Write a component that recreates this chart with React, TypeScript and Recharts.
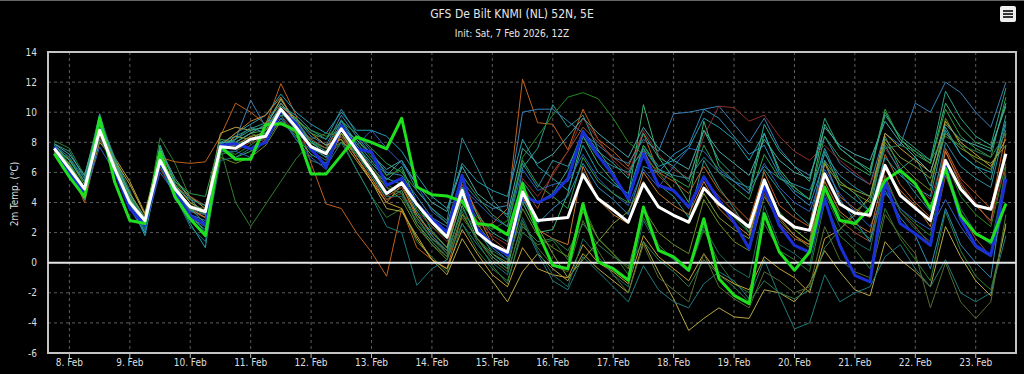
import React from 'react';
import { LineChart, Line, XAxis, YAxis, CartesianGrid, ReferenceLine, ReferenceArea } from 'recharts';

// forecast valid times, hours after 8 Feb 00Z (6-hourly from 7 Feb 18Z)
const HOURS = [
  -6, 0, 6, 12, 18, 24, 30, 36, 42, 48, 54, 60, 66, 72, 78, 84, 90, 96, 102, 108, 114, 120,
  126, 132, 138, 144, 150, 156, 162, 168, 174, 180, 186, 192, 198, 204, 210, 216, 222, 228,
  234, 240, 246, 252, 258, 264, 270, 276, 282, 288, 294, 300, 306, 312, 318, 324, 330, 336,
  342, 348, 354, 360, 366, 372,
];

const TICK_HOURS = [0, 24, 48, 72, 96, 120, 144, 168, 192, 216, 240, 264, 288, 312, 336, 360];
const TICK_LABELS = ['8. Feb', '9. Feb', '10. Feb', '11. Feb', '12. Feb', '13. Feb', '14. Feb', '15. Feb',
  '16. Feb', '17. Feb', '18. Feb', '19. Feb', '20. Feb', '21. Feb', '22. Feb', '23. Feb'];
const Y_TICKS = [-6, -4, -2, 0, 2, 4, 6, 8, 10, 12, 14];

// ensemble mean (white)
const MEAN = [
  7.6, 6.25, 4.9, 8.8, 6.25, 4.0, 2.8, 6.8, 4.9, 3.7, 3.4,
  7.7, 7.6, 8.2, 8.4, 10.2, 9.0, 7.7, 7.25, 8.9, 7.5, 6.1,
  4.6, 5.3, 3.9, 2.7, 1.7, 4.8, 2.0, 1.2, 0.7, 4.7,
  2.8, 2.9, 3.0, 5.85, 4.25, 3.5, 2.7, 5.25, 3.7, 3.15, 2.7,
  4.96, 3.9, 3.15, 2.37, 5.5, 3.15, 2.37, 2.15, 5.9, 3.9, 3.3,
  3.15, 6.47, 4.48, 3.63, 2.8, 6.8, 4.9, 3.8, 3.55, 7.24,
];
// operational run (green)
const OPER = [
  7.24, 5.7, 4.37, 9.6, 5.36, 2.8, 2.6, 7.35, 4.37, 2.9, 1.8,
  7.7, 6.87, 6.87, 9.17, 9.24, 8.8, 5.9, 5.9, 7.13, 8.35, 8.0,
  7.57, 9.6, 5.03, 4.52, 4.43, 4.08, 2.6, 2.48, 1.86, 5.25,
  2.04, -0.17, -0.4, 3.92, 0.05, -0.4, -1.17, 3.7, 0.82, 0.38, -0.5,
  2.92, -1.06, -2.17, -2.72, 3.26, 0.71, -0.5, 0.71, 5.03, 2.82, 2.6,
  3.6, 5.47, 6.14, 5.25, 3.6, 6.25, 3.15, 1.93, 1.38, 3.92,
];
// control run (blue)
const CONTROL = [
  7.7, 6.0, 4.6, 8.9, 6.1, 3.6, 2.5, 6.7, 4.7, 3.15, 2.5,
  7.8, 7.9, 7.57, 8.0, 10.1, 9.24, 7.57, 6.36, 9.1, 7.57, 7.35,
  5.14, 5.6, 3.9, 2.9, 2.04, 5.8, 2.27, 1.2, 0.5, 4.48,
  4.0, 4.48, 5.6, 8.7, 7.13, 5.8, 4.25, 7.24, 5.14, 4.8, 3.7,
  5.7, 4.15, 2.7, 0.93, 5.03, 2.48, 1.15, 0.7, 4.25, 1.15, -0.84,
  -1.28, 5.36, 2.6, 1.93, 1.15, 6.47, 2.92, 1.15, 0.5, 5.58,
];

// ensemble members
const M01 = [
  7.9, 7.4, 5.6, 9.9, 6.6, 4.2, 2.0, 7.8, 5.2, 3.3, 2.0,
  8.0, 8.4, 8.9, 9.3, 10.8, 9.5, 8.1, 7.6, 9.5, 8.0, 6.8,
  5.5, 6.4, 4.0, 2.1, 1.0, 5.6, 2.4, 0.6, -0.2, 6.3,
  7.6, 10.5, 9.0, 9.8, 7.5, 6.0, 4.1, 7.6, 5.2, 4.4, 3.0,
  6.8, 5.0, 3.6, 2.0, 6.2, 4.8, 3.4, 2.5, 7.4, 5.0, 4.2,
  3.4, 8.4, 6.2, 7.0, 5.1, 9.0, 7.2, 6.4, 5.5, 9.8,
];
const M02 = [
  8.1, 7.6, 5.8, 9.6, 6.9, 4.6, 2.6, 8.3, 6.6, 4.3, 3.8,
  7.6, 4.0, 2.4, 3.9, 5.4, 6.9, 8.0, 7.6, 8.2, 6.2, 4.4,
  3.0, 3.6, 1.4, 0.4, -0.6, 2.6, 0.8, -0.4, -1.2, 2.0,
  1.2, 1.5, 0.2, 3.8, 1.6, 0.6, -0.8, 3.0, 1.2, 0.2, -0.6,
  2.2, 0.0, -1.4, -2.0, 2.6, 0.8, 0.2, -0.6, 4.0, 1.8, 0.9,
  -0.4, 3.6, 1.6, 0.2, -1.2, 3.4, 0.8, -0.9, -1.8, 2.4,
];
const M03 = [
  7.3, 6.3, 4.0, 8.2, 6.4, 4.6, 3.0, 7.0, 6.7, 6.6, 6.7,
  8.4, 10.6, 10.0, 9.2, 11.9, 9.8, 6.6, 3.9, 3.6, 2.0, 0.7,
  -0.9, 3.6, 1.0, 0.2, -0.4, 3.2, 2.4, 2.6, 3.6, 12.2,
  9.3, 9.2, 7.5, 10.2, 8.2, 7.4, 6.4, 8.6, 6.0, 5.4, 4.6,
  6.4, 4.8, 3.8, 2.8, 6.0, 3.8, 3.0, 2.4, 6.6, 4.4, 3.6,
  3.0, 7.2, 5.2, 4.0, 3.0, 7.6, 5.6, 4.6, 3.6, 8.6,
];
const M04 = [
  7.5, 6.5, 5.0, 9.2, 7.0, 5.4, 3.3, 7.4, 5.4, 4.4, 3.6,
  8.6, 9.0, 8.8, 9.0, 10.9, 9.2, 7.8, 7.2, 8.4, 7.0, 5.4,
  3.6, 3.4, 1.8, 0.2, -0.8, 1.6, 0.0, -1.2, -2.6, -0.6,
  0.6, -0.4, -1.2, 0.6, -0.4, -1.2, -2.0, 1.4, -0.6, -2.4, -4.5,
  -3.7, -3.0, -3.6, -3.7, -1.8, -2.0, -2.6, -1.4, 0.8, -0.6, -1.8,
  -2.2, 1.4, 0.2, -0.6, -1.6, 2.4, 0.4, -1.2, -2.2, 2.6,
];
const M05 = [
  7.8, 7.0, 5.4, 9.4, 6.8, 4.4, 2.4, 7.2, 5.0, 3.2, 2.8,
  7.6, 8.2, 10.8, 9.0, 10.4, 9.6, 8.4, 7.8, 9.8, 8.4, 7.2,
  6.0, 5.8, 4.4, 3.0, 2.4, 5.4, 4.2, 3.6, 3.8, 10.0,
  10.2, 10.2, 9.4, 8.6, 7.8, 7.0, 6.6, 8.2, 7.4, 9.9, 10.0,
  10.2, 10.4, 9.2, 8.0, 9.6, 7.6, 6.4, 5.8, 8.4, 6.6, 5.8,
  5.2, 8.6, 7.8, 10.6, 10.0, 12.0, 11.3, 10.0, 9.0, 12.0,
];
const M06 = [
  7.4, 6.0, 4.6, 8.6, 6.0, 3.8, 2.6, 6.4, 4.6, 3.5, 3.0,
  7.8, 7.0, 7.4, 8.0, 9.6, 8.4, 7.2, 6.6, 8.6, 7.2, 5.8,
  4.2, 4.8, 2.6, 1.4, 0.4, 3.8, 1.6, 0.4, -0.4, 4.0,
  2.0, 2.2, 4.6, 8.4, 6.6, 5.4, 4.4, 10.5, 7.0, 5.6, 4.0,
  9.4, 6.4, 5.4, 4.6, 8.6, 6.2, 5.0, 4.2, 9.2, 7.6, 6.8,
  6.2, 10.0, 8.2, 7.4, 6.6, 10.6, 9.0, 8.0, 7.6, 10.4,
];
const M07 = [
  7.6, 6.8, 5.2, 9.0, 6.6, 4.4, 2.6, 7.6, 5.4, 4.0, 3.4,
  7.4, 7.2, 7.8, 8.6, 10.0, 9.4, 8.8, 8.4, 8.8, 8.2, 7.0,
  5.8, 6.2, 3.6, 2.4, 1.6, 4.4, 3.0, 2.2, 2.8, 7.0,
  8.4, 9.8, 11.0, 11.3, 10.9, 9.6, 8.0, 7.2, 6.0, 4.8, 3.6,
  5.8, 4.2, 3.0, 2.0, 5.2, 3.4, 2.2, 1.4, 5.0, 3.2, 2.4,
  1.6, 5.4, 3.6, 2.6, 1.8, 6.8, 4.4, 3.2, 2.4, 6.6,
];
const M08 = [
  7.7, 6.6, 5.0, 9.8, 6.4, 4.0, 1.8, 6.6, 4.4, 2.6, 1.0,
  7.8, 8.6, 9.2, 9.8, 11.2, 10.0, 9.2, 8.6, 10.0, 8.8, 8.8,
  8.4, 7.4, 5.8, 4.4, 3.6, 6.6, 5.4, 4.8, 4.4, 8.2,
  6.4, 5.6, 4.8, 7.8, 6.0, 5.2, 4.6, 7.8, 6.4, 6.8, 7.6,
  9.6, 9.0, 8.2, 6.8, 8.6, 6.0, 4.8, 4.2, 7.6, 5.4, 4.6,
  3.4, 7.0, 5.8, 5.0, 4.4, 8.8, 7.2, 6.4, 6.0, 9.4,
];
const M09 = [
  7.2, 6.0, 4.2, 8.4, 6.2, 4.2, 2.8, 6.6, 5.0, 4.4, 3.8,
  7.6, 7.8, 8.4, 8.0, 10.6, 9.2, 8.2, 7.6, 9.2, 7.6, 6.0,
  4.4, 5.0, 3.2, 1.8, 0.6, 5.2, 3.4, 1.6, 0.8, 5.0,
  3.6, 6.0, 7.4, 9.0, 8.0, 7.0, 6.2, 7.4, 5.8, 4.8, 3.6,
  5.6, 4.4, 3.4, 2.4, 4.6, 2.6, 1.6, 1.2, 4.8, 2.8, 2.0,
  1.4, 5.8, 3.4, 2.4, 1.2, 5.8, 3.2, 1.6, 0.4, 6.4,
];
const M10 = [
  7.4, 6.2, 4.4, 8.8, 6.0, 3.8, 2.4, 6.2, 4.6, 3.4, 3.0,
  7.2, 7.4, 8.0, 8.2, 9.8, 8.6, 7.4, 6.8, 8.4, 7.0, 5.6,
  4.2, 4.6, 3.4, 2.4, 1.4, 4.2, 2.8, 1.8, 1.2, 5.6,
  4.4, 5.8, 7.4, 9.6, 8.2, 6.8, 5.8, 8.8, 7.2, 6.2, 5.6,
  8.4, 10.4, 10.3, 9.4, 9.8, 8.4, 7.4, 6.8, 7.8, 6.8, 6.0,
  5.2, 7.6, 6.2, 5.2, 4.2, 7.4, 5.4, 4.0, 2.6, 7.0,
];
const M11 = [
  7.6, 6.9, 5.2, 9.1, 6.5, 4.3, 2.5, 7.0, 4.8, 3.0, 2.4,
  7.0, 6.6, 7.0, 7.8, 9.4, 8.6, 7.8, 7.0, 8.0, 7.4, 6.2,
  5.0, 4.2, 2.4, 1.2, 0.2, 3.2, 1.6, 0.6, 0.0, 3.6,
  1.8, 1.0, 0.4, 3.4, 1.6, 0.6, -0.4, 3.6, 2.0, 1.2, 0.6,
  4.2, 2.6, 1.4, 0.8, 4.4, 2.8, 1.8, 1.0, 6.8, 5.4, 4.6,
  4.0, 8.0, 6.6, 5.6, 4.8, 9.6, 7.8, 6.8, 6.2, 8.8,
];
const M12 = [
  7.8, 7.0, 5.6, 9.6, 7.0, 4.8, 2.2, 7.4, 4.4, 2.4, 1.4,
  6.8, 7.0, 7.6, 8.4, 9.8, 8.2, 6.8, 6.4, 8.0, 6.2, 4.4,
  2.4, 2.0, -1.5, -0.4, 0.2, 2.6, 1.2, 0.0, -0.8, 2.8,
  0.6, -1.2, -1.8, 0.4, -0.6, -1.6, -2.6, -0.2, -1.8, -2.6, -3.0,
  -1.4, -0.6, -1.2, -2.4, 0.2, -2.2, -4.4, -4.0, -0.8, -2.6, -2.0,
  -1.6, 0.4, 1.2, -0.4, -1.6, 0.2, -2.0, -2.6, -2.0, 1.8,
];
const M13 = [
  7.5, 6.2, 4.4, 7.7, 6.0, 4.0, 2.2, 6.0, 4.6, 3.4, 3.2,
  7.4, 7.4, 7.0, 8.2, 9.6, 8.2, 7.0, 6.2, 9.0, 7.8, 8.8,
  7.6, 6.6, 5.2, 3.4, 2.6, 5.0, 4.0, 3.0, 2.4, 6.2,
  4.8, 5.2, 5.4, 7.2, 5.6, 4.6, 3.8, 6.2, 5.0, 6.4, 7.6,
  7.4, 6.2, 5.4, 4.6, 6.6, 5.0, 4.0, 3.4, 6.2, 4.6, 3.4,
  2.4, 4.6, 3.6, 2.8, 2.2, 4.2, 2.4, 1.0, 0.4, 4.0,
];
const M14 = [
  7.3, 6.0, 4.6, 8.0, 6.8, 5.2, 3.2, 6.8, 5.2, 4.0, 3.4,
  7.6, 8.4, 8.2, 8.8, 10.4, 9.6, 8.6, 7.8, 8.2, 6.8, 5.4,
  4.0, 3.6, 1.6, 0.2, -0.4, 2.2, 0.6, -0.8, -1.6, 1.0,
  -0.4, -0.8, -1.0, 1.2, 0.0, -0.6, -1.4, 1.8, 0.4, -0.4, -1.2,
  0.6, -0.8, -1.4, -1.8, 0.4, -0.4, -1.0, -2.0, 1.6, 2.2, 3.2,
  4.4, 8.6, 7.6, 6.8, 6.0, 9.4, 8.0, 7.2, 6.4, 8.2,
];
const M15 = [
  7.6, 6.6, 5.0, 8.9, 6.4, 4.2, 2.6, 6.9, 5.4, 4.6, 4.4,
  8.2, 8.0, 8.6, 8.8, 9.8, 9.6, 8.6, 8.2, 9.4, 8.6, 7.6,
  6.6, 6.0, 4.8, 3.6, 2.6, 5.8, 4.4, 3.2, 2.4, 6.8,
  5.2, 4.4, 3.6, 7.0, 5.4, 4.6, 4.0, 7.8, 6.2, 5.6, 5.0,
  7.8, 6.0, 5.0, 4.2, 7.2, 5.6, 5.0, 4.2, 8.4, 7.0, 6.4,
  5.8, 10.2, 8.2, 7.2, 6.6, 10.2, 8.4, 7.6, 7.0, 11.0,
];
const M16 = [
  7.4, 6.4, 4.2, 8.6, 6.2, 4.0, 2.6, 7.2, 5.0, 3.6, 3.0,
  7.8, 8.6, 9.4, 9.8, 11.0, 9.2, 7.6, 6.4, 8.6, 7.0, 5.6,
  4.0, 5.2, 3.0, 1.6, 0.8, 5.6, 3.2, 1.2, 0.4, 4.4,
  2.2, 1.6, 1.2, 6.4, 4.2, 3.2, 2.6, 6.0, 4.6, 3.8, 3.2,
  5.4, 3.6, 2.6, 1.8, 5.6, 3.0, 1.8, 1.2, 5.4, 3.4, 2.6,
  2.0, 6.2, 4.8, 3.8, 2.4, 7.4, 5.2, 3.8, 2.8, 7.8,
];
const M17 = [
  7.7, 6.4, 4.8, 9.0, 6.2, 3.6, 2.0, 6.6, 4.2, 3.0, 2.2,
  7.6, 7.6, 8.2, 8.6, 10.0, 8.8, 7.6, 7.0, 9.4, 7.8, 6.4,
  5.2, 5.6, 3.4, 1.8, 0.8, 4.4, 2.2, 1.0, 0.2, 4.2,
  2.6, 3.6, 4.4, 6.6, 5.0, 4.2, 3.2, 6.4, 6.0, 7.2, 7.8,
  10.2, 9.6, 8.4, 7.2, 7.8, 5.8, 4.6, 3.8, 6.8, 4.2, 2.8,
  1.4, 4.8, 3.0, 1.8, -0.4, 3.6, 1.2, 0.0, -1.0, 5.8,
];
const M18 = [
  7.5, 6.3, 4.6, 8.5, 6.3, 4.1, 2.9, 6.8, 4.8, 3.8, 3.6,
  7.8, 8.0, 8.6, 8.2, 9.4, 8.8, 8.2, 8.6, 8.4, 7.6, 6.4,
  5.0, 4.6, 2.6, 1.2, 0.4, 3.0, 1.6, 0.2, -0.6, 2.6,
  1.0, -0.2, -0.6, 2.8, 0.8, -0.8, -2.0, 1.2, -1.0, -1.8, -2.6,
  0.6, -1.6, -2.4, -3.0, -0.6, -1.2, -2.0, -1.6, 2.4, 0.2, -0.6,
  -1.0, 3.2, 1.8, 0.6, -3.0, 0.0, -2.6, -3.7, -2.6, 3.2,
];
const M19 = [
  7.9, 7.2, 5.8, 9.4, 6.8, 4.6, 2.8, 7.6, 5.6, 4.2, 3.2,
  8.0, 8.0, 8.6, 9.2, 10.6, 9.4, 8.0, 7.4, 9.0, 8.2, 7.2,
  6.2, 6.8, 5.2, 4.0, 3.4, 6.4, 4.6, 3.8, 3.2, 7.6,
  6.6, 7.2, 8.4, 9.6, 8.6, 7.8, 7.0, 9.0, 7.6, 6.8, 6.2,
  8.8, 7.4, 6.6, 5.8, 8.2, 6.8, 6.0, 5.6, 9.0, 7.8, 7.2,
  6.8, 9.4, 8.0, 7.0, 6.0, 9.2, 8.2, 7.8, 7.4, 10.6,
];
const M20 = [
  7.3, 6.1, 4.2, 8.6, 6.6, 4.6, 3.0, 7.0, 5.0, 4.2, 3.8,
  7.4, 8.2, 9.0, 8.6, 10.4, 9.8, 8.8, 8.2, 10.2, 8.6, 7.4,
  5.8, 6.8, 4.8, 3.6, 2.8, 8.3, 6.3, 4.2, 3.0, 6.6,
  5.0, 6.8, 6.4, 8.4, 7.0, 6.4, 6.0, 7.6, 6.2, 5.8, 5.6,
  7.0, 6.0, 5.4, 5.0, 6.4, 5.6, 5.2, 4.8, 7.2, 5.8, 5.0,
  4.4, 7.8, 6.0, 4.6, 3.4, 8.0, 6.4, 5.6, 5.0, 9.2,
];
const M21 = [
  7.6, 6.5, 4.8, 9.2, 6.6, 4.6, 3.0, 7.2, 5.0, 3.8, 3.2,
  7.8, 7.8, 8.4, 8.6, 10.0, 9.0, 7.8, 7.2, 8.6, 7.2, 6.0,
  4.6, 5.4, 3.2, 2.0, 1.0, 4.2, 2.6, 1.2, 0.4, 4.6,
  2.4, 0.6, -1.0, 0.2, 1.4, 2.6, 3.4, 5.4, 3.8, 3.2, 2.6,
  4.6, 3.0, 2.2, 1.6, 5.2, 3.2, 2.2, 1.4, 6.6, 5.2, 4.8,
  4.4, 8.2, 7.0, 6.4, 5.6, 8.6, 7.6, 7.0, 6.6, 7.8,
];
const M22 = [
  7.5, 6.4, 4.6, 8.8, 6.0, 3.8, 2.2, 6.6, 4.6, 3.2, 2.6,
  7.2, 7.4, 8.2, 8.4, 9.4, 8.4, 7.4, 6.8, 8.8, 7.2, 5.8,
  4.4, 4.4, 2.8, 1.6, 0.6, 3.6, 2.0, 0.8, 0.2, 3.0,
  0.8, -0.8, -1.6, 1.6, 0.4, -0.8, -1.6, 2.8, 1.0, 0.2, -0.6,
  2.4, 0.6, -0.4, -1.0, 3.8, 1.2, 0.6, -0.2, 4.6, 2.4, 1.4,
  0.8, 5.6, 3.4, 2.2, 1.4, 6.2, 3.6, 2.0, 1.2, 6.0,
];
const M23 = [
  7.4, 6.2, 4.4, 8.2, 6.4, 4.4, 3.0, 6.4, 4.6, 3.6, 3.2,
  7.6, 8.0, 8.0, 8.6, 10.0, 9.4, 8.0, 7.4, 8.0, 7.2, 6.4,
  5.2, 4.6, 3.0, 1.6, 0.8, 3.4, 1.4, -0.2, -1.4, 2.4,
  1.4, 1.6, 0.8, 2.6, 1.2, 0.4, -0.2, 1.4, 0.2, -0.6, -1.6,
  0.2, -0.8, -1.6, -2.6, -1.2, -2.0, -2.4, -1.8, 1.0, 2.2, 3.4,
  4.2, 7.6, 7.8, 7.4, 6.8, 8.4, 7.8, 7.4, 7.0, 8.6,
];
const M24 = [
  7.8, 6.8, 5.4, 9.5, 6.8, 4.4, 2.4, 7.8, 5.2, 3.6, 2.6,
  7.9, 8.2, 8.8, 9.0, 10.2, 9.2, 8.0, 7.2, 9.2, 7.8, 6.6,
  5.6, 5.2, 3.8, 2.8, 1.8, 5.0, 3.2, 2.0, 1.4, 5.4,
  4.0, 4.6, 6.2, 8.8, 7.4, 6.6, 5.6, 8.6, 7.0, 6.4, 5.4,
  8.8, 6.8, 5.8, 4.8, 9.2, 7.4, 6.4, 5.4, 9.6, 7.6, 6.8,
  6.0, 9.8, 8.4, 7.6, 6.8, 11.4, 9.6, 8.4, 7.8, 11.6,
];

const MEMBERS = [M01, M02, M03, M04, M05, M06, M07, M08, M09, M10, M11, M12,
  M13, M14, M15, M16, M17, M18, M19, M20, M21, M22, M23, M24];
const MEMBER_COLORS = ['#2a9d8f', '#2e7d32', '#c0601a', '#b5a642', '#3b7fb5', '#3cb371',
  '#228b22', '#20a0b0', '#a0522d', '#8b2e2e', '#6b8e23', '#1f7a7a',
  '#3060c0', '#c8a032', '#2e9e4a', '#c87a30', '#2b8cbe', '#556b2f',
  '#48a9a6', '#2c8c9c', '#7fa035', '#1b6b5b', '#2f7f4f', '#2aa58a'];

const FONT = "'Liberation Sans Narrow', 'DejaVu Sans Condensed', 'Roboto Condensed', sans-serif";
const X_DOMAIN: [number, number] = [-8.5, 376];

export default function App() {
  const data = HOURS.map((t, i) => {
    const row: Record<string, number> = { t, mean: MEAN[i], op: OPER[i], ctrl: CONTROL[i] };
    MEMBERS.forEach((m, k) => { row['m' + k] = m[i]; });
    return row;
  });
  const tickStyle = { fill: '#dedede', fontSize: 10, fontFamily: FONT };
  return (
    <div style={{ position: 'absolute', left: 0, top: 0, width: 1024, height: 374, background: '#000', overflow: 'hidden', fontFamily: FONT }}>
      <div style={{ position: 'absolute', left: 0, top: 0, width: 1024, height: 1, background: '#666' }} />
      <div style={{ position: 'absolute', left: 0, top: 6, width: 1024, textAlign: 'center', color: '#e6e6e6', fontSize: 12, lineHeight: '16px' }}>
        GFS De Bilt KNMI (NL) 52N, 5E
      </div>
      <div style={{ position: 'absolute', left: 0, top: 27, width: 1024, textAlign: 'center', color: '#e6e6e6', fontSize: 10, lineHeight: '14px' }}>
        Init: Sat, 7 Feb 2026, 12Z
      </div>
      <div style={{ position: 'absolute', left: 1000, top: 6, width: 16, height: 16, background: '#eeeeee', borderRadius: 2 }}>
        <div style={{ position: 'absolute', left: 3, top: 4, width: 10, height: 2, background: '#333' }} />
        <div style={{ position: 'absolute', left: 3, top: 7, width: 10, height: 2, background: '#333' }} />
        <div style={{ position: 'absolute', left: 3, top: 10, width: 10, height: 2, background: '#333' }} />
      </div>
      <svg style={{ position: 'absolute', left: 0, top: 0 }} width={40} height={374}>
        <text x={14} y={194} transform="rotate(-90 14 194)" textAnchor="middle" dominantBaseline="central"
          fill="#dedede" fontSize={10} fontFamily={FONT}>2m Temp. (°C)</text>
      </svg>
      <LineChart width={1024} height={374} data={data} margin={{ top: 52, right: 8, bottom: 0, left: 0 }}>
        <CartesianGrid stroke="#5c5c5c" strokeDasharray="3 3" />
        <XAxis dataKey="t" type="number" domain={X_DOMAIN} ticks={TICK_HOURS} allowDataOverflow
          tickFormatter={(v: number) => TICK_LABELS[TICK_HOURS.indexOf(v)] ?? ''}
          height={21} tick={tickStyle} tickLine={{ stroke: '#bbbbbb' }} tickSize={5} tickMargin={1}
          axisLine={false} interval={0} />
        <YAxis type="number" domain={[-6, 14]} ticks={Y_TICKS} width={48} tick={tickStyle}
          tickLine={false} axisLine={false} tickMargin={5} interval={0} />
        {MEMBERS.map((_, k) => (
          <Line key={k} type="linear" dataKey={'m' + k} stroke={MEMBER_COLORS[k]} strokeWidth={1}
            dot={false} activeDot={false} isAnimationActive={false} strokeLinejoin="round" />
        ))}
        <ReferenceLine y={0} stroke="#e4e4e4" strokeWidth={2} />
        <Line type="linear" dataKey="ctrl" stroke="#1a2fd6" strokeWidth={3} dot={false} activeDot={false}
          isAnimationActive={false} strokeLinejoin="round" />
        <Line type="linear" dataKey="op" stroke="#1fe01f" strokeWidth={3} dot={false} activeDot={false}
          isAnimationActive={false} strokeLinejoin="round" />
        <Line type="linear" dataKey="mean" stroke="#ffffff" strokeWidth={3} dot={false} activeDot={false}
          isAnimationActive={false} strokeLinejoin="round" />
        <ReferenceArea x1={X_DOMAIN[0]} x2={X_DOMAIN[1]} y1={-6} y2={14} fill="none" fillOpacity={0}
          stroke="#c4c4c4" strokeWidth={2} ifOverflow="visible" />
      </LineChart>
    </div>
  );
}
